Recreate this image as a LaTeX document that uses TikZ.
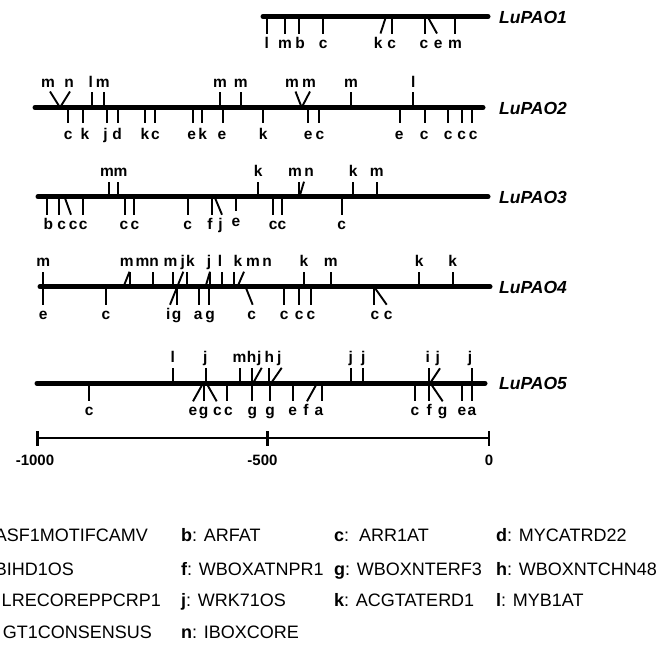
\documentclass[tikz,border=0pt]{standalone}
\usepackage{fontspec}
\setmainfont{Liberation Sans}
\tikzset{
 gene/.style={line width=5pt, line cap=round},
 tk/.style={line width=1.9pt},
 lab/.style={font=\fontsize{15.5}{15.5}\selectfont\bfseries, anchor=base, inner sep=0pt},
 gname/.style={font=\fontsize{17.5}{17.5}\selectfont\bfseries\itshape, anchor=base west, inner sep=0pt},
 sc/.style={line width=2.6pt},
 sclab/.style={font=\fontsize{15}{15}\selectfont\bfseries, anchor=base, inner sep=0pt},
 leg/.style={font=\fontsize{18}{18}\selectfont, inner sep=0pt},
}
\begin{document}
\begin{tikzpicture}[x=1pt,y=-1pt]
\useasboundingbox (0,0) rectangle (668,646);
\clip (0,0) rectangle (668,646);

% ---------------- LuPAO1
\def\L{16.5}
\foreach \x in {266.7,285,299.3,323.3,391.7,425,455} \draw[tk] (\x,\L) -- (\x,\L+17);
\draw[tk] (386,\L) -- (380.5,\L+17);
\draw[tk] (427.5,\L) -- (437,\L+17);
\coordinate (g1s) at (263,\L); \coordinate (g1e) at (488,\L);
\draw[gene] (g1s) -- (g1e);
\node[gname] (n1) at (499,\L+6.5) {LuPAO1};
\foreach \x/\t [count=\i] in {266.7/l,285/m,300/b,323.3/c,378.3/k,391.7/c,424/c,438.3/e,455/m}
  \node[lab] (r1d\i) at (\x,\L+32) {\t};

% ---------------- LuPAO2
\def\L{107.5}
\foreach \x in {91.7,104,220,240.7,351,413.3} \draw[tk] (\x,\L) -- (\x,\L-16);
\draw[tk] (50,\L-16) -- (60,\L) -- (70,\L-16);
\draw[tk] (295.5,\L-16) -- (301.7,\L) -- (310,\L-16);
\foreach \x in {68.3,83.3,107.3,118.3,145,155,192.7,201.7,223.3,262.7,308.3,319.3,400,425,447.7,461.7,471.7}
  \draw[tk] (\x,\L) -- (\x,\L+15.5);
\coordinate (g2s) at (35,\L); \coordinate (g2e) at (483,\L);
\draw[gene] (g2s) -- (g2e);
\node[gname] (n2) at (499,\L+6.5) {LuPAO2};
\foreach \x/\t [count=\i] in {48/m,69/n,90.7/l,102.7/m,220/m,240.7/m,292/m,309/m,351/m,413.3/l}
  \node[lab] (r2u\i) at (\x,\L-20.5) {\t};
\foreach \x/\t [count=\i] in {68.3/c,85/k,105.5/j,117/d,145/k,155.5/c,191.7/e,202.7/k,222/e,263.3/k,308.3/e,320/c,399.3/e,424.3/c,448.3/c,461.7/c,473.3/c}
  \node[lab] (r2d\i) at (\x,\L+32) {\t};

% ---------------- LuPAO3
\def\L{196.7}
\foreach \x in {109.3,117.7,258.3,299,353.3,376.7} \draw[tk] (\x,\L) -- (\x,\L-15);
\draw[tk] (299.5,\L) -- (304,\L-15);
\foreach \x in {46.7,59.3,83.3,125,134.3,187.7,211.7,273.3,281.7,341.7} \draw[tk] (\x,\L) -- (\x,\L+18);
\draw[tk] (236,\L) -- (236,\L+14.5);
\draw[tk] (64.5,\L) -- (71,\L+18);
\draw[tk] (214.5,\L) -- (222,\L+18);
\coordinate (g3s) at (38,\L); \coordinate (g3e) at (488,\L);
\draw[gene] (g3s) -- (g3e);
\node[gname] (n3) at (499,\L+6.5) {LuPAO3};
\foreach \x/\t [count=\i] in {107/m,120.5/m,258.3/k,295/m,309/n,353.3/k,376.7/m}
  \node[lab] (r3u\i) at (\x,\L-20.5) {\t};
\foreach \x/\t [count=\i] in {48.3/b,61.7/c,73.3/c,83.3/c,124/c,135/c,187.7/c,210/f,220.5/j,273.3/c,282/c,341.7/c}
  \node[lab] (r3d\i) at (\x,\L+32.5) {\t};
\node[lab] (r3e) at (236,\L+29.5) {e};

% ---------------- LuPAO4
\def\L{286.7}
\foreach \x in {43.3,130,153.3,172.7,186.7,210,221.7,234.3,304,330.7,419.3,452.7} \draw[tk] (\x,\L) -- (\x,\L-15);
\draw[tk] (123.5,\L) -- (129.5,\L-15);
\draw[tk] (205.5,\L) -- (210,\L-15);
\draw[tk] (237.5,\L) -- (244,\L-15);
\draw[tk] (170,\L+18) -- (183.3,\L-15);
\foreach \x in {43.3,106,176.7,199.3,209.3,284.3,299.3,311,374} \draw[tk] (\x,\L) -- (\x,\L+18);
\draw[tk] (245.5,\L) -- (252.7,\L+18);
\draw[tk] (374,\L) -- (386.7,\L+18);
\coordinate (g4s) at (40,\L); \coordinate (g4e) at (490,\L);
\draw[gene] (g4s) -- (g4e);
\node[gname] (n4) at (499,\L+6.5) {LuPAO4};
\foreach \x/\t [count=\i] in {43.3/m,126.7/m,142.5/m,154/n,170.5/m,182.7/j,190.5/k,209/j,220/l,238/k,253/m,267/n,304/k,330.7/m,419.3/k,452.7/k}
  \node[lab] (r4u\i) at (\x,\L-20.5) {\t};
\foreach \x/\t [count=\i] in {43.3/e,106/c,168.3/i,176.7/g,198.3/a,210/g,251.7/c,284.3/c,299.3/c,311/c,375/c,388.3/c}
  \node[lab] (r4d\i) at (\x,\L+32.5) {\t};

% ---------------- LuPAO5
\def\L{383.3}
\foreach \x in {173.3,206,240,251.7,269.3,350.7,363.3,429.3,471.7} \draw[tk] (\x,\L) -- (\x,\L-15.5);
\draw[tk] (253,\L) -- (261.7,\L-15.5);
\draw[tk] (271,\L) -- (281.7,\L-15.5);
\draw[tk] (430,\L) -- (440,\L-15);
\foreach \x in {89.3,204.3,227.3,252.3,270,292.7,321.7,415,429.3,461.7,471.7} \draw[tk] (\x,\L) -- (\x,\L+18);
\draw[tk] (203,\L) -- (193,\L+18);
\draw[tk] (206.5,\L) -- (216.7,\L+18);
\draw[tk] (317,\L) -- (307,\L+18);
\draw[tk] (430.5,\L) -- (442.7,\L+18);
\coordinate (g5s) at (37,\L); \coordinate (g5e) at (485,\L);
\draw[gene] (g5s) -- (g5e);
\node[gname] (n5) at (499,\L+6.5) {LuPAO5};
\foreach \x/\t [count=\i] in {172.7/l,205.3/j,239.5/m,251.7/h,259.3/j,269.3/h,279.3/j,350.7/j,363.3/j,427.7/i,437.7/j,470/j}
  \node[lab] (r5u\i) at (\x,\L-20.5) {\t};
\foreach \x/\t [count=\i] in {89.3/c,193/e,203.5/g,217.5/c,228.5/c,252.3/g,270/g,292.7/e,306/f,319/a,415/c,429.3/f,442.7/g,462/e,472/a}
  \node[lab] (r5d\i) at (\x,\L+32.5) {\t};

% ---------------- scale bar
\coordinate (s0) at (37.3,438); \coordinate (s1) at (267.7,438); \coordinate (s2) at (489,438);
\draw[sc] (s0) -- (s2);
\foreach \x in {37.3,267.7,489} \draw[sc] (\x,431) -- (\x,445.5);
\node[sclab] (sl0) at (35,465) {-1000};
\node[sclab] (sl1) at (262.5,465) {-500};
\node[sclab] (sl2) at (489,465) {0};

% ---------------- legend
\node[leg,anchor=base east] (la) at (148,541.7) {\textbf{a}: ASF1MOTIFCAMV};
\node[leg,anchor=base east] (le) at (74,575) {\textbf{e}: BIHD1OS};
\node[leg,anchor=base east] (li) at (161,606.7) {\textbf{i}: LRECOREPPCRP1};
\node[leg,anchor=base east] (lm) at (152,638.3) {\textbf{m}: GT1CONSENSUS};
\node[leg,anchor=base west] (lb) at (181,541.7) {\textbf{b}: ARFAT};
\node[leg,anchor=base west] (lf) at (181,575) {\textbf{f}: WBOXATNPR1};
\node[leg,anchor=base west] (lj) at (181,606.7) {\textbf{j}: WRK71OS};
\node[leg,anchor=base west] (ln) at (181,638.3) {\textbf{n}: IBOXCORE};
\node[leg,anchor=base west] (lc) at (334,541.7) {\textbf{c}:\ \ ARR1AT};
\node[leg,anchor=base west] (lg) at (334,575) {\textbf{g}: WBOXNTERF3};
\node[leg,anchor=base west] (lk) at (334,606.7) {\textbf{k}: ACGTATERD1};
\node[leg,anchor=base west] (ld) at (496,541.7) {\textbf{d}: MYCATRD22};
\node[leg,anchor=base west] (lh) at (496,575) {\textbf{h}: WBOXNTCHN48};
\node[leg,anchor=base west] (ll) at (496,606.7) {\textbf{l}: MYB1AT};
\end{tikzpicture}
\end{document}
